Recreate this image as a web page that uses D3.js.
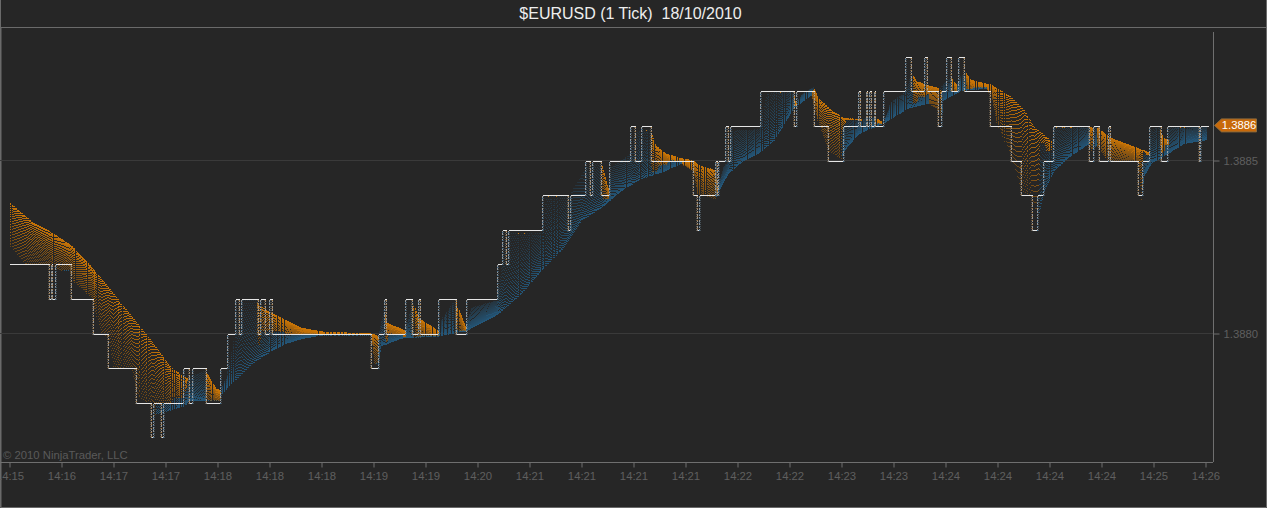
<!DOCTYPE html>
<html><head><meta charset="utf-8">
<script src="https://cdn.jsdelivr.net/npm/d3@7"></script>
<style>html,body{margin:0;padding:0;background:#262626;overflow:hidden}svg{display:block}text{font-family:"Liberation Sans",Arial,sans-serif}</style>
</head><body><svg id="c" width="1267" height="508"></svg>
<script>
// Price levels are in ticks above 1.3880 (1 tick = 0.0001); x is the bar position along the time axis.
const priceBars=[-1,39,41,43,45,61,83,98,126,141,143,151,154,174,179,182,196,211,217,225,229,231,248,250,255,259,262,361,368,374,376,395,402,408,410,429,446,456,487,492,496,498,532,558,560,575,580,582,591,599,620,625,631,641,683,687,689,705,707,708,715,718,720,750,784,786,804,818,833,848,850,856,858,859,861,864,866,873,896,901,915,917,929,931,937,941,948,954,981,1001,1011,1022,1027,1033,1043,1079,1083,1089,1098,1100,1128,1132,1139,1151,1157,1189,1191];
const priceTicks=[2,1,2,1,2,1,0,-1,-2,-3,-2,-3,-2,-1,-2,-1,-2,-1,0,1,0,1,0,1,0,1,0,-1,0,1,0,1,0,1,0,1,0,1,2,3,2,3,4,3,4,5,4,5,4,5,6,5,6,5,4,3,4,5,4,5,6,5,6,7,6,7,6,5,6,7,6,7,6,7,6,7,6,7,8,7,8,7,6,7,8,7,8,7,6,5,4,3,4,5,6,5,6,5,6,5,4,5,6,5,6,5,6];
const priceEnd=1198;
// Upper and lower envelope of the moving-average ribbon.
const upperBars=[0,21,41,61,81,101,121,141,161,176,195,206,211,217,223,231,246,249,261,276,291,311,361,368,374,376,395,401,402,409,428,431,445,446,455,461,486,491,496,531,536,558,576,591,598,601,620,624,631,640,646,656,671,683,691,705,707,713,718,720,726,749,756,766,783,786,791,803,808,821,834,851,864,873,881,896,901,906,915,929,936,941,946,954,961,981,1001,1014,1024,1041,1044,1086,1101,1138,1141,1149,1153,1158,1159,1196];
const upperTicks=[3.77,3.25,2.93,2.55,1.94,1.25,.52,-.20,-.99,-1.28,-1.07,-1.59,-1.65,-1.22,-.35,.96,.96,.81,.61,.38,.17,.06,0,-.06,.81,.32,.09,.81,.96,.43,.09,.38,.96,.90,.23,.75,.96,1.88,2.90,2.90,3.96,3.96,4.81,4.96,4.20,4.81,5.2,5.8,5.88,5.88,5.42,5.2,5.07,5.0,4.84,4.73,4.2,4.81,5.0,5.8,5.88,5.9,6.9,6.99,6.99,6.6,6.9,7.13,6.81,6.46,6.23,6.2,6.26,6.1,6.7,7.0,7.57,7.3,7.2,7.1,7.3,7.4,7.2,7.6,7.33,7.19,6.84,6.46,5.97,5.57,5.97,5.97,5.65,5.25,5.88,5.97,5.65,5.6,5.97,5.97];
const lowerBars=[0,16,39,51,59,63,81,83,91,98,103,121,128,141,144,174,179,210,211,224,241,258,274,291,311,361,364,368,371,391,428,456,471,488,511,531,551,571,591,611,631,651,671,683,687,705,707,718,731,748,764,784,801,806,818,831,834,848,858,873,898,918,929,931,933,951,976,981,986,1001,1011,1021,1028,1034,1044,1058,1079,1081,1086,1098,1128,1131,1134,1141,1158,1174,1198];
const lowerTicks=[2.55,2.0,2,1.83,1.83,1.54,1.07,.96,.03,-.09,-.93,-1.01,-1.8,-2.03,-2.32,-2.09,-1.93,-1.93,-1.74,-1.36,-.87,-.55,-.29,-.14,-.03,-.03,-.84,-.84,-.35,-.12,-.06,.09,.32,.58,1.16,1.83,2.41,3.28,3.65,4.14,4.49,4.67,4.93,4.72,4.06,3.91,4.06,4.64,4.96,5.22,5.6,6.55,6.9,6.32,5.3,5.07,5.3,5.77,5.91,6.09,6.52,6.67,6.46,6.03,6.75,7.04,7.1,6.9,6.17,5.17,4.14,4.0,3.36,4.14,4.72,5.1,5.51,5.3,5.45,5.0,5.0,3.9,4.58,4.93,5.22,5.51,5.62];
const timeLabels=["14:15","14:16","14:17","14:17","14:18","14:18","14:18","14:19","14:19","14:20","14:21","14:21","14:21","14:21","14:22","14:22","14:23","14:23","14:24","14:24","14:24","14:24","14:25","14:26"];
const priceLabels=[0,5];
const lastTick=6;

const COL={bg:"#262626",frame:"#6a6a6a",axis:"#6f6f6f",grid:"#3a3a3a",label:"#5f5f5f",orange:"#c87406",blue:"#245678",marker:"#c8690a"};
const svg=d3.select("#c");
const x=d3.scaleLinear().domain([0,1196]).range([9.5,1205.5]);
const y=d3.scaleLinear().domain([0,5]).range([333.5,160.5]);
const upper=d3.scaleLinear().domain(upperBars).range(upperTicks);
const lower=d3.scaleLinear().domain(lowerBars).range(lowerTicks);

svg.append("rect").attr("width",1267).attr("height",508).attr("fill",COL.bg);
svg.append("path").attr("d","M0.5 0V507.5H1266.5V0M0 27.5H1267M1 28V507").attr("fill","none").attr("stroke",COL.frame);

svg.append("g").selectAll("line").data(priceLabels).join("line")
 .attr("x1",0).attr("x2",1213).attr("y1",d=>y(d)).attr("y2",d=>y(d)).attr("stroke",COL.grid);

// ribbon: orange threads pack toward the upper edge, blue ones toward the lower edge
const strands=36;
const yAt=(b,f)=>y(upper(b)+(lower(b)-upper(b))*f);
function family(color,isFalling,toF,fade){
  const g=svg.append("g").attr("fill","none").attr("stroke",color).attr("shape-rendering","crispEdges");
  d3.range(strands).forEach(k=>{
    const u=k/(strands-1), f=toF(Math.pow(u,1.25)), p=d3.path();
    for(let b=k%2;b<=1196;b+=2){
      const cy=yAt(b,f), prev=yAt(Math.max(0,b-2),f);
      const down=cy>prev;
      if((b===0&&isFalling)||(b>0&&down===isFalling)){const yy=Math.round(cy)+.5,xx=Math.round(x(b));p.moveTo(xx,yy);p.lineTo(xx+1,yy);}
    }
    g.append("path").attr("d",p.toString()).attr("stroke-opacity",1-fade*u);
  });
}
family(COL.blue,false,v=>1-v,.7);
family(COL.orange,true,v=>v,.6);

// price line: horizontals drawn bright, verticals as muted dotted strokes
const stepData=priceBars.map((b,i)=>[b,priceTicks[i]]).concat([[priceEnd,priceTicks[priceTicks.length-1]]]);
const px=b=>Math.round(x(b))+.5, py=t=>Math.round(y(t))+.5;
const horiz=d3.path();
stepData.slice(0,-1).forEach((d,i)=>{horiz.moveTo(px(d[0]),py(d[1]));horiz.lineTo(px(stepData[i+1][0])+.5,py(d[1]));});
svg.append("path").attr("d",horiz.toString()).attr("fill","none").attr("stroke","#e6e6e6").attr("shape-rendering","crispEdges");
const vertical=svg.append("g").attr("shape-rendering","crispEdges");
stepData.slice(1,-1).forEach((d,i)=>{
  const prev=stepData[i], falling=d[1]<prev[1];
  const seg=(dx,c,op,dash)=>vertical.append("line").attr("x1",px(d[0])+dx).attr("x2",px(d[0])+dx)
   .attr("y1",py(prev[1])).attr("y2",py(d[1])).attr("stroke",c).attr("stroke-opacity",op).attr("stroke-dasharray",dash);
  seg(falling?-1:1,falling?"#8d7a60":"#5f7484",.55,"1 1");
  seg(0,"#adadad",.85,"2 1");
  seg(0,falling?"#a9793c":"#3f6f92",.9,"1 3");
});

// axes
const xAxis=d3.axisBottom(x).tickValues(d3.range(24).map(i=>i*52)).tickSize(5).tickPadding(4).tickFormat((d,i)=>timeLabels[i]);
const gx=svg.append("g").attr("transform","translate(0,462.5)").call(xAxis);
gx.select(".domain").remove();
gx.append("line").attr("x1",0).attr("x2",1213).attr("stroke",COL.axis);
gx.selectAll(".tick line").attr("stroke",COL.axis);
gx.selectAll("text").attr("fill",COL.label).attr("font-size",11.3).attr("font-family","Liberation Sans");

const yAxis=d3.axisRight(y).tickValues(priceLabels).tickSize(6).tickPadding(4).tickFormat(d=>(1.388+d*1e-4).toFixed(4));
const gy=svg.append("g").attr("transform","translate(1213.5,0)").call(yAxis);
gy.select(".domain").remove();
gy.append("line").attr("y1",32).attr("y2",462).attr("stroke",COL.axis);
gy.selectAll(".tick line").attr("stroke",COL.axis);
gy.selectAll("text").attr("fill",COL.label).attr("font-size",11.3).attr("font-family","Liberation Sans");

const my=y(lastTick)-.5;
svg.append("path").attr("d",`M1214.5 ${my}L1221.5 ${my-6.5}H1256.5V${my+6.5}H1221.5Z`).attr("fill",COL.marker).attr("stroke","#8c6a3c");
svg.append("text").attr("x",1239).attr("y",my+4).attr("text-anchor","middle").attr("font-size",11.3).attr("fill","#fff").text((1.388+lastTick*1e-4).toFixed(4));

svg.append("text").attr("x",630.5).attr("y",18.5).attr("text-anchor","middle").attr("font-size",16).attr("fill","#eee").attr("xml:space","preserve").text("$EURUSD (1 Tick)  18/10/2010");
svg.append("text").attr("x",3).attr("y",459).attr("font-size",11.3).attr("fill","#5a5a5a").text("© 2010 NinjaTrader, LLC");
</script></body></html>
